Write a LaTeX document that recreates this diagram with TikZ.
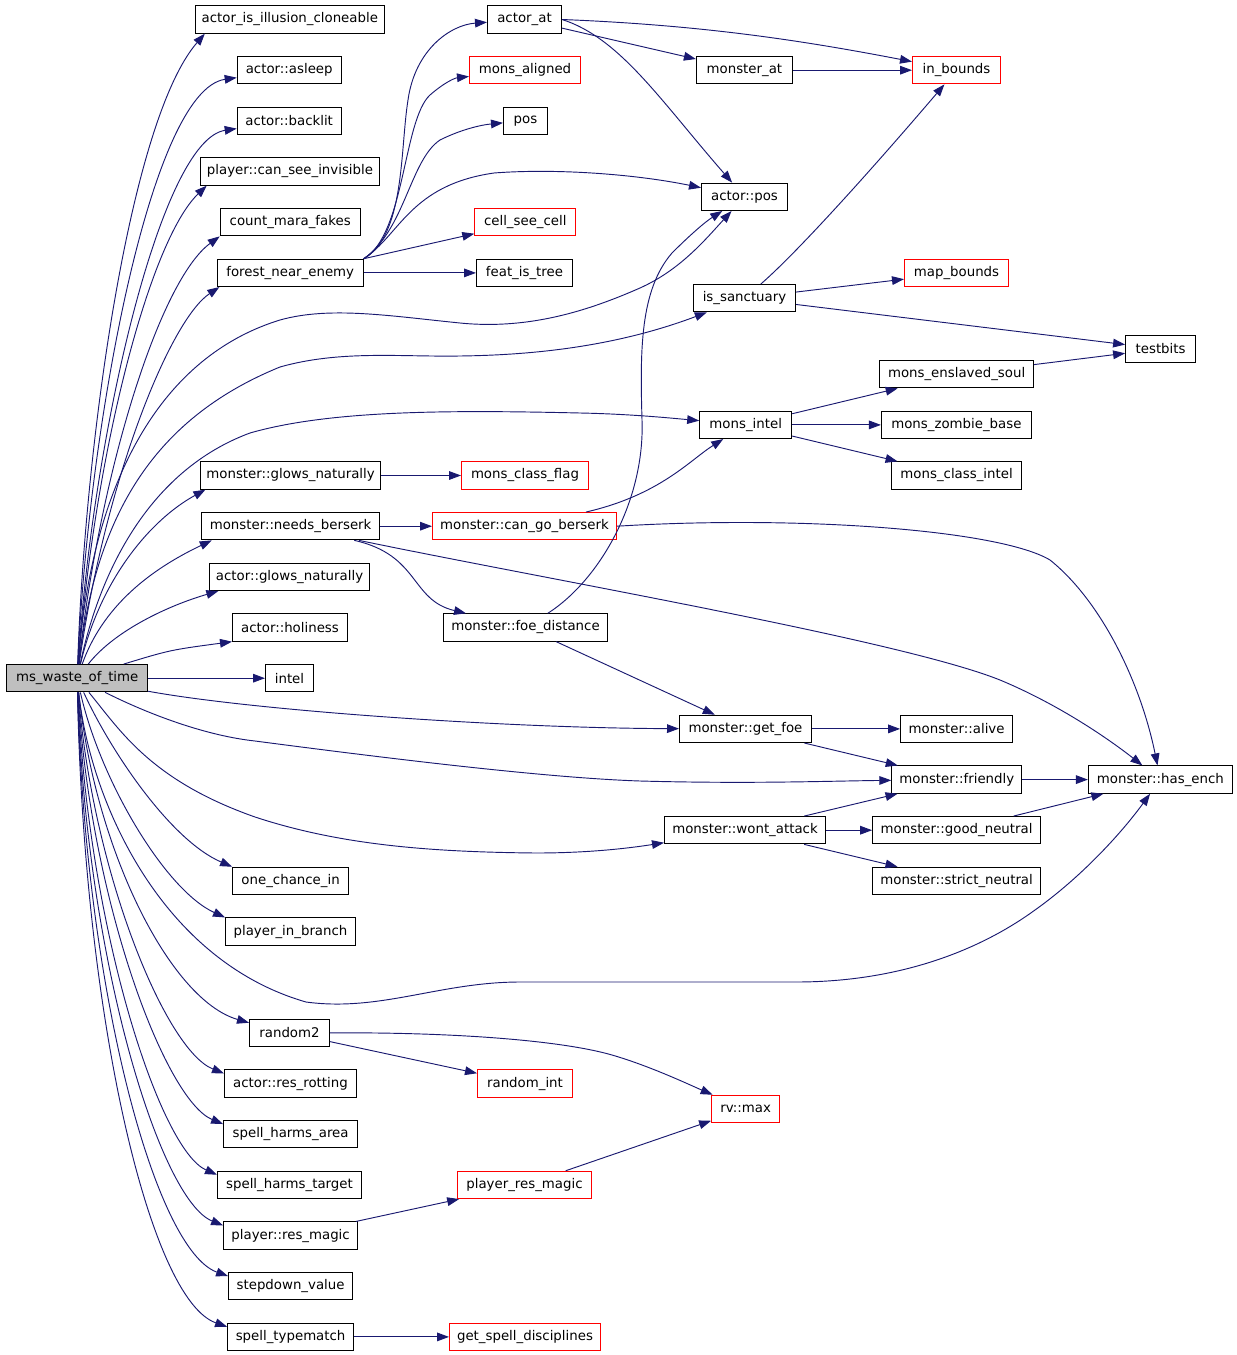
\documentclass[tikz,border=0pt]{standalone}
\usepackage{xcolor}
\usepackage{fontspec}
\setmainfont{DejaVu Sans}
\usepackage{tikz}
\usetikzlibrary{arrows.meta}
\definecolor{doxyblue}{RGB}{25,25,112}
\definecolor{doxygray}{RGB}{191,191,191}

\begin{document}
\begin{tikzpicture}[x=0.75pt, y=-0.75pt,
    fn/.style={draw=black, fill=white, line width=0.75pt, minimum height=20.5pt,
        inner sep=0pt, font=\fontsize{10}{12}\selectfont},
    fnred/.style={fn, draw=red},
    fnmain/.style={fn, fill=doxygray},
    bw/.style={minimum width=#1*0.75pt},
    callarrow/.style={doxyblue, line width=0.7pt, -{Triangle[length=9pt, width=6.5pt]}}]
    \useasboundingbox (0,0) rectangle (1237,1355);

    % caller
    \node[fnmain, bw=140.5] (ms) at (77.2,678.2) {ms\_waste\_of\_time};

    % first column
    \node[fn, bw=189] (aic) at (289.8,19.5) {actor\_is\_illusion\_cloneable};
    \node[fn, bw=104] (asl) at (289.2,70.2) {actor::asleep};
    \node[fn, bw=104] (bkl) at (289.2,120.8) {actor::backlit};
    \node[fn, bw=179] (pcsi) at (290,171.5) {player::can\_see\_invisible};
    \node[fn, bw=140] (cmf) at (290.2,222.2) {count\_mara\_fakes};
    \node[fn, bw=146] (fne) at (290.2,272.9) {forest\_near\_enemy};
    \node[fn, bw=180] (mgn) at (290.6,475.5) {monster::glows\_naturally};
    \node[fn, bw=178] (nb) at (290.6,526.2) {monster::needs\_berserk};
    \node[fn, bw=160] (agn) at (289.5,576.9) {actor::glows\_naturally};
    \node[fn, bw=115] (hol) at (290,627.5) {actor::holiness};
    \node[fn, bw=48] (intel) at (289.5,678.2) {intel};
    \node[fn, bw=116] (oci) at (290.6,880.9) {one\_chance\_in};
    \node[fn, bw=130] (pib) at (290.5,931.6) {player\_in\_branch};
    \node[fn, bw=80] (r2) at (289.5,1032.9) {random2};
    \node[fn, bw=132] (arr) at (290.5,1083.6) {actor::res\_rotting};
    \node[fn, bw=134] (sha) at (290.6,1134.2) {spell\_harms\_area};
    \node[fn, bw=144] (sht) at (289.5,1184.9) {spell\_harms\_target};
    \node[fn, bw=134] (prm) at (290.6,1235.6) {player::res\_magic};
    \node[fn, bw=124] (sdv) at (290.6,1286.3) {stepdown\_value};
    \node[fn, bw=126] (stm) at (290.6,1336.9) {spell\_typematch};

    % second column
    \node[fn, bw=74] (aat) at (524.5,19.5) {actor\_at};
    \node[fnred, bw=111] (mal) at (525,70.2) {mons\_aligned};
    \node[fn, bw=44] (pos) at (525.5,120.8) {pos};
    \node[fnred, bw=101] (csc) at (525.3,222.2) {cell\_see\_cell};
    \node[fn, bw=96] (fit) at (524.5,272.9) {feat\_is\_tree};
    \node[fnred, bw=127] (mcf) at (525,475.5) {mons\_class\_flag};
    \node[fnred, bw=184] (cgb) at (524.5,526.2) {monster::can\_go\_berserk};
    \node[fn, bw=164] (fd) at (525.5,627.5) {monster::foe\_distance};
    \node[fnred, bw=95] (rint) at (525,1083.6) {random\_int};
    \node[fnred, bw=134] (prmg) at (524.5,1184.9) {player\_res\_magic};
    \node[fnred, bw=151] (gsd) at (525,1336.9) {get\_spell\_disciplines};

    % third column
    \node[fn, bw=96] (mat) at (744.4,70.2) {monster\_at};
    \node[fn, bw=86] (apos) at (744.5,196.8) {actor::pos};
    \node[fn, bw=102] (isan) at (744.5,298.2) {is\_sanctuary};
    \node[fn, bw=92] (mi) at (745.7,424.9) {mons\_intel};
    \node[fn, bw=132] (gf) at (745.5,728.9) {monster::get\_foe};
    \node[fn, bw=161] (wa) at (745,830.2) {monster::wont\_attack};
    \node[fnred, bw=68] (rvm) at (745.6,1108.9) {rv::max};

    % fourth and fifth column
    \node[fnred, bw=88] (inb) at (956.5,70.2) {in\_bounds};
    \node[fnred, bw=104] (mapb) at (956.5,272.9) {map\_bounds};
    \node[fn, bw=154] (mes) at (956.6,374.2) {mons\_enslaved\_soul};
    \node[fn, bw=150] (mzb) at (956.4,424.9) {mons\_zombie\_base};
    \node[fn, bw=130] (mci) at (956.6,475.5) {mons\_class\_intel};
    \node[fn, bw=112] (alv) at (956.6,728.9) {monster::alive};
    \node[fn, bw=130] (fr) at (956.8,779.6) {monster::friendly};
    \node[fn, bw=168] (gn) at (956.6,830.2) {monster::good\_neutral};
    \node[fn, bw=168] (sn) at (956.6,880.9) {monster::strict\_neutral};
    \node[fn, bw=70] (tb) at (1160.6,348.9) {testbits};
    \node[fn, bw=144] (he) at (1160.4,779.6) {monster::has\_ench};

    % calls of ms_waste_of_time, upper fan
    \draw[callarrow] (ms) .. controls (85,440) and (130,120) .. ([xshift=7.5pt]aic.south west);
    \draw[callarrow] (ms) .. controls (88,430) and (150,90) .. (asl);
    \draw[callarrow] (ms) .. controls (92,440) and (160,140) .. (bkl);
    \draw[callarrow] (ms) .. controls (95,450) and (150,240) .. ([xshift=5pt]pcsi.south west);
    \draw[callarrow] (ms) .. controls (100,470) and (160,280) .. (cmf.south west);
    \draw[callarrow] (ms) .. controls (105,480) and (170,320) .. ([xshift=2pt]fne.south west);
    \draw[callarrow] (ms) .. controls (90,500) and (150,360) .. (280,320)
        .. controls (330,306) and (390,316) .. (460,323)
        .. controls (530,330) and (590,310) .. (640,288)
        .. controls (680,270) and (705,240) .. (apos);
    \draw[callarrow] (ms) .. controls (95,520) and (150,420) .. (280,367)
        .. controls (340,350) and (400,357) .. (460,356)
        .. controls (540,355) and (620,345) .. (isan);
    \draw[callarrow] (ms) .. controls (100,570) and (150,470) .. (250,433)
        .. controls (330,410) and (450,410) .. (580,413)
        .. controls (630,414) and (670,418) .. (mi);
    \draw[callarrow] (ms) .. controls (100,580) and (150,520) .. ([xshift=4pt]mgn.south west);
    \draw[callarrow] (ms) .. controls (105,600) and (160,565) .. ([xshift=8pt]nb.south west);
    \draw[callarrow] (ms) .. controls (115,630) and (170,605) .. ([xshift=7pt]agn.south west);
    \draw[callarrow] (ms) .. controls (170,650) .. (hol.south west);
    \draw[callarrow] (ms) -- (intel);

    % calls of ms_waste_of_time, lower fan
    \draw[callarrow] (ms) .. controls (250,710) and (500,728) .. (gf);
    \draw[callarrow] (ms) .. controls (140,710) and (200,735) .. (255,741)
        .. controls (400,760) and (550,778) .. (640,781)
        .. controls (750,784) and (830,781) .. (fr);
    \draw[callarrow] (ms) .. controls (120,730) and (150,780) .. (255,817)
        .. controls (340,845) and (430,852) .. (536,853)
        .. controls (590,853) and (630,848) .. (wa);
    \draw[callarrow] (ms) .. controls (110,750) and (170,840) .. (oci.north west);
    \draw[callarrow] (ms) .. controls (100,780) and (165,890) .. (pib.north west);
    \draw[callarrow] (ms) .. controls (90,800) and (160,960) .. (306,1002)
        .. controls (380,1012) and (440,982) .. (520,982) -- (796,982)
        .. controls (900,982) and (980,950) .. (1035,910)
        .. controls (1080,878) and (1120,835) .. (he);
    \draw[callarrow] (ms) .. controls (95,850) and (170,1000) .. ([yshift=-3pt]r2.north west);
    \draw[callarrow] (ms) .. controls (92,870) and (165,1050) .. ([yshift=-3pt]arr.north west);
    \draw[callarrow] (ms) .. controls (90,900) and (165,1100) .. ([yshift=-3pt]sha.north west);
    \draw[callarrow] (ms) .. controls (88,930) and (160,1150) .. ([yshift=-3pt]sht.north west);
    \draw[callarrow] (ms) .. controls (86,960) and (160,1200) .. ([yshift=-3pt]prm.north west);
    \draw[callarrow] (ms) .. controls (85,990) and (155,1250) .. ([yshift=-3pt]sdv.north west);
    \draw[callarrow] (ms) .. controls (84,1020) and (150,1300) .. ([yshift=-3pt]stm.north west);

    % forest_near_enemy
    \draw[callarrow] (fne.north east) .. controls (405,235) and (400,150) .. (408,100)
        .. controls (415,50) and (450,25) .. (aat);
    \draw[callarrow] (fne.north east) .. controls (405,235) and (403,120) .. (430,95)
        .. controls (445,82) and (455,78) .. (mal);
    \draw[callarrow] (fne.north east) .. controls (405,230) and (410,160) .. (440,140)
        .. controls (460,130) and (480,125) .. (pos);
    \draw[callarrow] (fne.north east) .. controls (400,235) and (410,185) .. (494,173)
        .. controls (560,168) and (640,175) .. (apos);
    \draw[callarrow] (fne.north east) -- (csc);
    \draw[callarrow] (fne) -- (fit);

    % actor_at, monster_at, is_sanctuary
    \draw[callarrow] (aat.east) .. controls (700,25) and (800,40) .. (inb);
    \draw[callarrow] (aat) -- (mat);
    \draw[callarrow] (aat.east) .. controls (620,38) and (660,100) .. (apos);
    \draw[callarrow] (mat) -- (inb);
    \draw[callarrow] (isan) .. controls (800,250) and (880,160) .. (inb);
    \draw[callarrow] (isan) -- (mapb);
    \draw[callarrow] (isan) -- (tb);
    \draw[callarrow] (mes) -- (tb);

    % mons_intel and monster methods
    \draw[callarrow] (mi) -- (mes);
    \draw[callarrow] (mi) -- (mzb);
    \draw[callarrow] (mi) -- (mci);
    \draw[callarrow] (mgn) -- (mcf);
    \draw[callarrow] (nb) -- (cgb);
    \draw[callarrow] (cgb) .. controls (660,495) and (690,460) .. (mi);
    \draw[callarrow] (cgb.east) .. controls (800,515) and (1000,530) .. (1050,560)
        .. controls (1100,600) and (1140,680) .. (he);
    \draw[callarrow] (nb) .. controls (420,555) and (410,600) .. (fd);
    \draw[callarrow] (nb) .. controls (550,580) and (900,640) .. (1000,680)
        .. controls (1060,705) and (1110,740) .. (he);
    \draw[callarrow] (fd) .. controls (600,580) and (645,500) .. (642,420)
        .. controls (640,350) and (640,290) .. (672,253)
        .. controls (690,235) and (705,222) .. (apos);
    \draw[callarrow] (fd) -- (gf);
    \draw[callarrow] (gf) -- (alv);
    \draw[callarrow] (gf) -- (fr);
    \draw[callarrow] (fr) -- (he);
    \draw[callarrow] (wa) -- (fr);
    \draw[callarrow] (wa) -- (gn);
    \draw[callarrow] (wa) -- (sn);
    \draw[callarrow] (gn) -- (he);

    % random and magic
    \draw[callarrow] (r2) -- (rint);
    \draw[callarrow] (r2.east) .. controls (450,1032) and (560,1040) .. (612,1055)
        .. controls (650,1066) and (690,1085) .. (rvm);
    \draw[callarrow] (prmg) -- (rvm);
    \draw[callarrow] (prm) -- (prmg);
    \draw[callarrow] (stm) -- (gsd);
\end{tikzpicture}
\end{document}
